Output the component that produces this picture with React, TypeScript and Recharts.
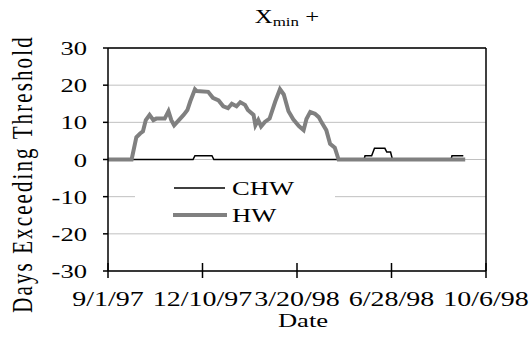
import React from "react";
import { LineChart, Line, XAxis, YAxis, CartesianGrid, Legend, ReferenceLine } from "recharts";

// days since 9/1/97
const tickDays = [0, 100, 200, 300, 400];
const tickDates = ["9/1/97", "12/10/97", "3/20/98", "6/28/98", "10/6/98"];
const yTicks = [-30, -20, -10, 0, 10, 20, 30];

const hwDays = [0, 25, 30, 34, 37, 40, 44, 48, 51, 60, 64, 67, 70, 75, 80, 84, 87, 92, 94, 106, 111, 117, 122, 127, 131, 136, 140, 145, 148, 154, 156, 159, 162, 166, 171, 177, 182, 186, 191, 196, 202, 207, 210, 214, 219, 223, 226, 231, 235, 240, 244, 378];
const hwValues = [0, 0, 6, 7, 7.6, 10.6, 12, 10.6, 11, 11, 13, 10.6, 9.2, 10.6, 12, 13.3, 15.6, 18.9, 18.4, 18.2, 16.6, 15.9, 14.3, 13.8, 15, 14.3, 15.4, 14.7, 13.3, 12, 9.2, 10.6, 8.9, 10.1, 11, 15.6, 18.9, 17.5, 13, 10.8, 9, 7.9, 10.9, 12.8, 12.3, 11.4, 10, 7.9, 4.2, 3.2, 0, 0];

const chwDays = [0, 90, 92, 110, 112, 271, 272, 279, 282, 293, 295, 299, 301, 363, 364, 376];
const chwValues = [0, 0, 1, 1, 0, 0, 1, 1, 3, 3, 2, 2, 0, 0, 1, 1];

const hwData = hwDays.map((d, i) => ({ day: d, value: hwValues[i] }));
const chwData = chwDays.map((d, i) => ({ day: d, value: chwValues[i] }));

const FONT = '"Liberation Serif", "Times New Roman", serif';
const STRETCH = 1.4;

const XTick = (props: any) => {
  const { x, y, payload } = props;
  const idx = tickDays.indexOf(payload.value);
  return (
    <g>
      <line x1={x} x2={x} y1={y - 8} y2={y + 7} stroke="#000" strokeWidth={1.5} />
      <text
        transform={`translate(${x},${y + 35}) scale(${STRETCH},1)`}
        textAnchor="middle"
        fontFamily={FONT}
        fontSize={20}
        fill="#000"
      >
        {tickDates[idx]}
      </text>
    </g>
  );
};

const YTick = (props: any) => {
  const { x, y, payload } = props;
  return (
    <text
      transform={`translate(${x},${y + 7}) scale(${STRETCH},1)`}
      textAnchor="end"
      fontFamily={FONT}
      fontSize={19}
      fill="#000"
    >
      {payload.value}
    </text>
  );
};

const LegendBox = () => (
  <svg width={200} height={58} style={{ display: "block", background: "#fff" }}>
    <line x1={39} x2={90} y1={18} y2={18} stroke="#000" strokeWidth={1.5} />
    <text transform={`translate(97,24.5) scale(${STRETCH},1)`} fontFamily={FONT} fontSize={19} fill="#000">CHW</text>
    <line x1={38} x2={92} y1={45} y2={45} stroke="#808080" strokeWidth={4} />
    <text transform={`translate(97,51.5) scale(${STRETCH},1)`} fontFamily={FONT} fontSize={19} fill="#000">HW</text>
  </svg>
);

export default function App() {
  return (
    <div style={{ position: "absolute", left: 0, top: 0, width: 532, height: 341, background: "#fff", overflow: "hidden" }}>
      {/* title */}
      <div
        style={{
          position: "absolute", left: 287, top: 6, whiteSpace: "nowrap",
          fontFamily: FONT, fontSize: 19, lineHeight: "22px",
          transform: `translateX(-50%) scaleX(1.3)`,
        }}
      >
        X<sub style={{ fontSize: 13, verticalAlign: "-3px" }}>min</sub> +
      </div>

      <LineChart width={532} height={341} margin={{ top: 48, right: 46, bottom: 0, left: 0 }}>
        <CartesianGrid vertical={false} stroke="#c0c0c0" />
        <XAxis
          dataKey="day"
          type="number"
          domain={[0, 400]}
          ticks={tickDays}
          height={70}
          tickSize={0}
          tickMargin={0}
          tickLine={false}
          axisLine={{ stroke: "#000", strokeWidth: 1.5 }}
          tick={<XTick />}
          interval={0}
        />
        <YAxis
          type="number"
          domain={[-30, 30]}
          ticks={yTicks}
          width={108}
          tickSize={5}
          tickMargin={16}
          tickLine={{ stroke: "#000", strokeWidth: 1.5 }}
          axisLine={{ stroke: "#000", strokeWidth: 1.5 }}
          tick={<YTick />}
          interval={0}
        />
        <ReferenceLine y={30} stroke="#000" strokeWidth={1.5} />
        <ReferenceLine x={400} stroke="#000" strokeWidth={1.5} />
        <Line
          data={chwData}
          dataKey="value"
          name="CHW"
          type="linear"
          stroke="#000"
          strokeWidth={1.5}
          dot={false}
          isAnimationActive={false}
        />
        <Line
          data={hwData}
          dataKey="value"
          name="HW"
          type="linear"
          stroke="#808080"
          strokeWidth={4}
          dot={false}
          isAnimationActive={false}
        />
        <Legend
          layout="horizontal"
          verticalAlign="middle"
          align="center"
          content={<LegendBox />}
          wrapperStyle={{ position: "absolute", left: 135, top: 170, width: 200, height: 58 }}
        />
      </LineChart>

      {/* axis titles */}
      <div
        style={{
          position: "absolute", left: 303, top: 311, whiteSpace: "nowrap",
          fontFamily: FONT, fontSize: 19, lineHeight: "20px",
          transform: `translateX(-50%) scaleX(${STRETCH})`,
        }}
      >
        Date
      </div>
      <div
        style={{
          position: "absolute", left: 22, top: 174, whiteSpace: "nowrap",
          fontFamily: FONT, fontSize: 21, lineHeight: "22px", letterSpacing: 2.1,
          transform: `translate(-50%,-50%) scaleX(${STRETCH}) rotate(-90deg)`,
        }}
      >
        Days Exceeding Threshold
      </div>
    </div>
  );
}
